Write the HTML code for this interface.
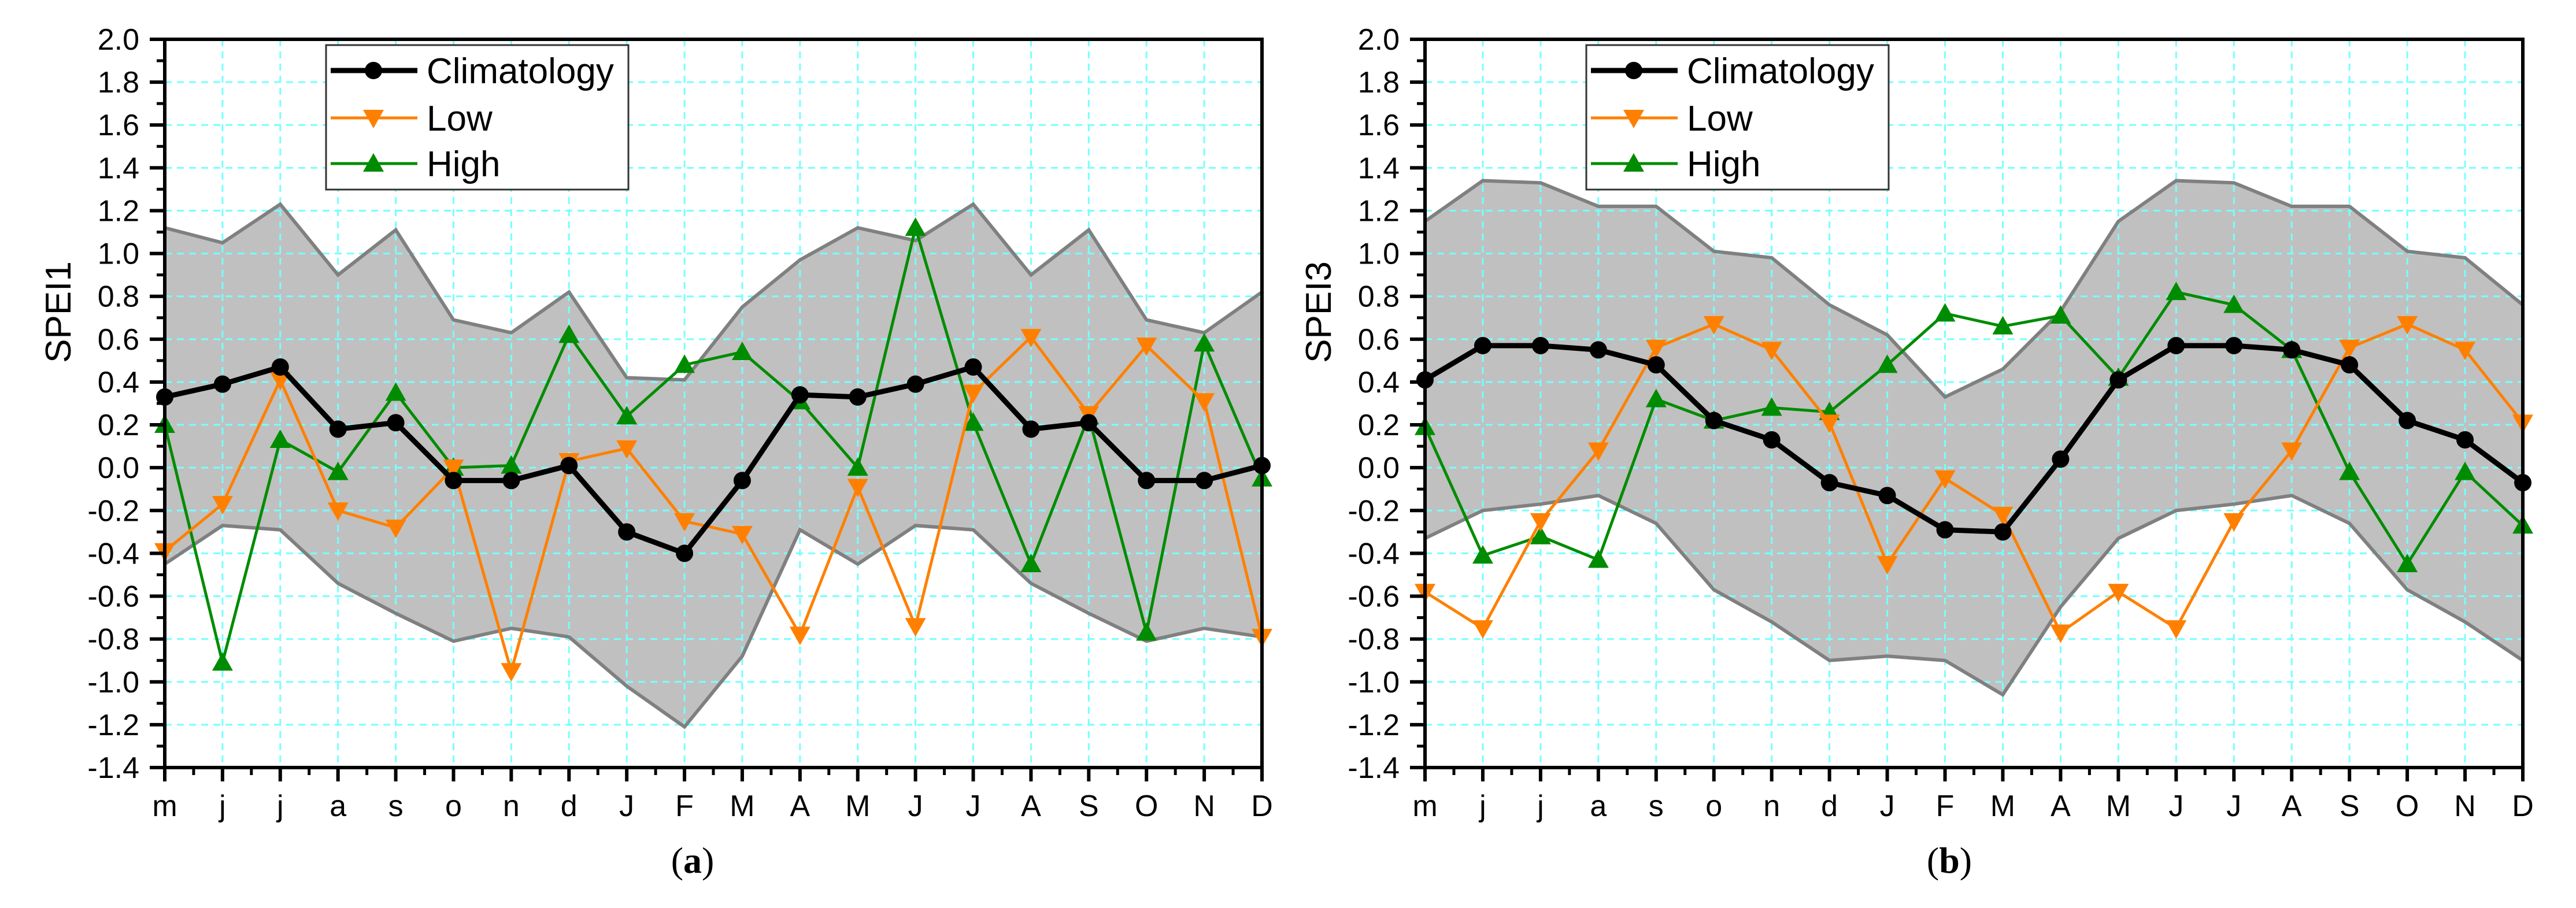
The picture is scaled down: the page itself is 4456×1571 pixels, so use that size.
<!DOCTYPE html>
<html><head><meta charset="utf-8"><style>
html,body{margin:0;padding:0;background:#fff;}
svg{display:block;font-family:"Liberation Sans",Arial,sans-serif;}
</style></head><body>
<svg id="chart" width="4456" height="1571" viewBox="0 0 4456 1571" xmlns="http://www.w3.org/2000/svg"></svg>
<script>
const categories=["m","j","j","a","s","o","n","d","J","F","M","A","M","J","J","A","S","O","N","D"];
const yTicks=[2.0,1.8,1.6,1.4,1.2,1.0,0.8,0.6,0.4,0.2,0.0,-0.2,-0.4,-0.6,-0.8,-1.0,-1.2,-1.4];
const aUpper=[1.12,1.05,1.23,0.90,1.11,0.69,0.63,0.82,0.42,0.41,0.75,0.97,1.12,1.06,1.23,0.90,1.11,0.69,0.63,0.82];
const aLower=[-0.45,-0.27,-0.29,-0.54,-0.68,-0.81,-0.75,-0.79,-1.02,-1.21,-0.88,-0.29,-0.45,-0.27,-0.29,-0.54,-0.68,-0.81,-0.75,-0.79];
const aClim=[0.33,0.39,0.47,0.18,0.21,-0.06,-0.06,0.01,-0.30,-0.40,-0.06,0.34,0.33,0.39,0.47,0.18,0.21,-0.06,-0.06,0.01];
const aLow=[-0.39,-0.17,0.41,-0.20,-0.28,0.0,-0.95,0.03,0.09,-0.25,-0.31,-0.78,-0.09,-0.74,0.35,0.61,0.25,0.57,0.31,-0.79];
const aHigh=[0.20,-0.91,0.13,-0.02,0.35,0.0,0.01,0.62,0.24,0.48,0.54,0.31,0.0,1.12,0.21,-0.45,0.24,-0.77,0.58,-0.05];
const bUpper=[1.15,1.34,1.33,1.22,1.22,1.01,0.98,0.76,0.62,0.33,0.46,0.73,1.15,1.34,1.33,1.22,1.22,1.01,0.98,0.76];
const bLower=[-0.33,-0.20,-0.17,-0.13,-0.26,-0.57,-0.72,-0.90,-0.88,-0.90,-1.06,-0.65,-0.33,-0.20,-0.17,-0.13,-0.26,-0.57,-0.72,-0.90];
const bClim=[0.41,0.57,0.57,0.55,0.48,0.22,0.13,-0.07,-0.13,-0.29,-0.30,0.04,0.41,0.57,0.57,0.55,0.48,0.22,0.13,-0.07];
const bLow=[-0.58,-0.75,-0.25,0.08,0.56,0.67,0.55,0.21,-0.45,-0.05,-0.22,-0.77,-0.58,-0.75,-0.25,0.08,0.56,0.67,0.55,0.21];
const bHigh=[0.19,-0.41,-0.32,-0.43,0.32,0.22,0.28,0.26,0.48,0.72,0.66,0.71,0.42,0.82,0.76,0.55,-0.02,-0.45,-0.02,-0.27];

const NS="http://www.w3.org/2000/svg";
const svg=document.getElementById('chart');
function mk(tag,attrs,parent){const e=document.createElementNS(NS,tag);for(const k in attrs)e.setAttribute(k,attrs[k]);(parent||svg).appendChild(e);return e;}

function panel(opt){
  const g=mk('g',{});
  
  
  const L=opt.left,R=opt.right,T=68,B=1328,ymin=-1.4,ymax=2.0;
  const x=i=>L+(R-L)*i/(categories.length-1);
  const y=v=>B-(v-ymin)/(ymax-ymin)*(B-T);
  // band
  let d='';
  opt.upper.forEach((v,i)=>{d+=(i?'L':'M')+x(i)+','+y(v);});
  for(let i=opt.lower.length-1;i>=0;i--)d+='L'+x(i)+','+y(opt.lower[i]);
  const band=mk('path',{d:d+'Z',fill:'#c0c0c0',stroke:'none'},g);
  
  
  // grid
  yTicks.forEach(v=>{if(v>ymin&&v<ymax){const l=mk('line',{x1:L,x2:R,y1:y(v),y2:y(v),stroke:'#7ff',"stroke-width":3,"stroke-dasharray":"12 9"},g);
    
    }});
  categories.forEach((c,i)=>{if(i>0&&i<categories.length-1){const l=mk('line',{x1:x(i),x2:x(i),y1:T,y2:B,stroke:'#7ff',"stroke-width":3,"stroke-dasharray":"12 9"},g);
    
    }});
  // band edges
  ['upper','lower'].forEach(k=>{const p=mk('polyline',{points:opt[k].map((v,i)=>x(i)+','+y(v)).join(' '),fill:'none',stroke:'#808080',"stroke-width":6},g);
    
    });
  // series
  function series(vals,color,w,marker,name){
    const sg=mk('g',{},g);
    
    
    mk('polyline',{points:vals.map((v,i)=>x(i)+','+y(v)).join(' '),fill:'none',stroke:color,"stroke-width":w,"stroke-linejoin":"miter"},sg);
    vals.forEach((v,i)=>{const cx=x(i),cy=y(v);let m;
      if(marker==='c')m=mk('circle',{cx:cx,cy:cy,r:15,fill:color},sg);
      else if(marker==='d')m=mk('path',{d:`M${cx-18},${cy-14}L${cx+18},${cy-14}L${cx},${cy+18}Z`,fill:color},sg);
      else m=mk('path',{d:`M${cx-18},${cy+14}L${cx+18},${cy+14}L${cx},${cy-18}Z`,fill:color},sg);
      
      });
  }
  series(opt.high,'#008c00',5,'u','high-series');
  series(opt.low,'#ff8000',5,'d','low-series');
  series(opt.clim,'#000',9,'c','climatology-series');
  // frame
  const fr=mk('rect',{x:L,y:T,width:R-L,height:B-T,fill:'none',stroke:'#000',"stroke-width":6},g);
  
  
  // y ticks
  yTicks.forEach((v,i)=>{mk('line',{x1:L-26,x2:L,y1:y(v),y2:y(v),stroke:'#000',"stroke-width":6},g);
    if(i<yTicks.length-1){const mv=v-0.1;mk('line',{x1:L-14,x2:L,y1:y(mv),y2:y(mv),stroke:'#000',"stroke-width":5},g);}
    const t=mk('text',{x:L-44,y:y(v)+18,"text-anchor":"end","font-size":52,fill:'#000'},g);
    t.textContent=v.toFixed(1);
    
    });
  // x ticks
  categories.forEach((c,i)=>{mk('line',{x1:x(i),x2:x(i),y1:B,y2:B+24,stroke:'#000',"stroke-width":6},g);
    if(i<categories.length-1){const mx=(x(i)+x(i+1))/2;mk('line',{x1:mx,x2:mx,y1:B,y2:B+13,stroke:'#000',"stroke-width":5},g);}
    const t=mk('text',{x:x(i),y:1412,"text-anchor":"middle","font-size":52,fill:'#000'},g);
    t.textContent=c;
    
    });
  // y title
  const yt=mk('text',{x:0,y:0,transform:`translate(${opt.titleX},540) rotate(-90)`,"text-anchor":"middle","font-size":62,fill:'#000'},g);
  yt.textContent=opt.title;
  
  
  // legend
  const lg=mk('g',{},g);
  
  
  const lx=opt.legendX;
  mk('rect',{x:lx,y:78,width:523,height:250,fill:'#fff',stroke:'#333',"stroke-width":3},lg);
  const ents=[['Climatology','#000',9,'c',122],['Low','#ff8000',5,'d',204],['High','#008c00',5,'u',283]];
  ents.forEach(e=>{const eg=mk('g',{},lg);
    
    
    mk('line',{x1:lx+8,x2:lx+158,y1:e[4],y2:e[4],stroke:e[1],"stroke-width":e[2]},eg);
    const cx=lx+82,cy=e[4];
    if(e[3]==='c')mk('circle',{cx:cx,cy:cy,r:15,fill:e[1]},eg);
    else if(e[3]==='d')mk('path',{d:`M${cx-18},${cy-14}L${cx+18},${cy-14}L${cx},${cy+18}Z`,fill:e[1]},eg);
    else mk('path',{d:`M${cx-18},${cy+14}L${cx+18},${cy+14}L${cx},${cy-18}Z`,fill:e[1]},eg);
    const t=mk('text',{x:lx+174,y:e[4]+22,"font-size":62,fill:'#000'},eg);t.textContent=e[0];});
  // panel label
  const pl=mk('text',{x:opt.labelX,y:1510,"text-anchor":"middle","font-size":64,"font-family":"Liberation Serif, serif",fill:'#000'},g);
  pl.innerHTML='(<tspan font-weight="bold">'+opt.letter+'</tspan>)';
  
  
}
panel({name:'panel-a-spei1',left:285,right:2183,upper:aUpper,lower:aLower,clim:aClim,low:aLow,high:aHigh,title:'SPEI1',titleX:122,legendX:564,labelX:1198,letter:'a'});
panel({name:'panel-b-spei3',left:2465,right:4364,upper:bUpper,lower:bLower,clim:bClim,low:bLow,high:bHigh,title:'SPEI3',titleX:2302,legendX:2744,labelX:3372,letter:'b'});
</script>
</body></html>
